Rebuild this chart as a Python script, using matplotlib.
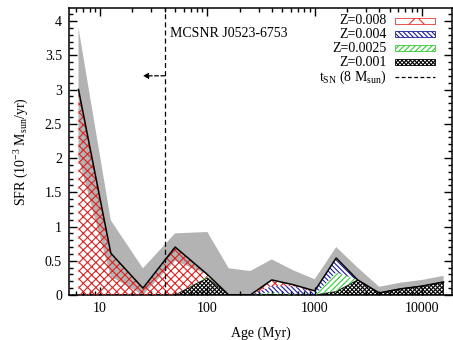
import numpy as np
import matplotlib
matplotlib.use("Agg")
import matplotlib.pyplot as plt
from matplotlib.patches import Rectangle
from matplotlib.lines import Line2D
from matplotlib.ticker import FixedLocator, MultipleLocator, LogLocator, NullFormatter

plt.rcParams['font.family'] = ['Liberation Serif', 'DejaVu Serif']
plt.rcParams['mathtext.fontset'] = 'custom'
plt.rcParams['mathtext.rm'] = 'Liberation Serif'
plt.rcParams['mathtext.it'] = 'Liberation Serif:italic'
plt.rcParams['hatch.linewidth'] = 0.8

# ---- data ----
ages = [6.3, 12.6, 25.1, 50.1, 100, 158, 251, 398, 631, 1000, 1585, 2512, 3981, 6310, 10000, 15849]
sfr_z001 = [0, 0, 0, 0, 0.25, 0, 0, 0.01, 0, 0, 0.05, 0.22, 0.03, 0.09, 0.13, 0.19]
sfr_z0025 = [0, 0, 0, 0, 0.02, 0, 0, 0.03, 0.01, 0, 0.28, 0, 0, 0, 0, 0]
sfr_z004 = [0, 0, 0, 0, 0, 0, 0, 0.09, 0.12, 0.04, 0.21, 0, 0, 0, 0, 0]
sfr_z008 = [3.0, 0.61, 0.10, 0.70, 0.03, 0, 0, 0.09, 0.02, 0.02, 0, 0, 0, 0, 0, 0]
err_upper = [3.90, 1.09, 0.39, 0.90, 0.92, 0.39, 0.35, 0.52, 0.36, 0.23, 0.70, 0.40, 0.12, 0.18, 0.22, 0.28]
err_lower = [2.0, 0.27, 0.0, 0.50, 0.30, 0, 0, 0.22, 0.15, 0.06, 0.54, 0.22, 0.03, 0.09, 0.13, 0.19]
t_sn = 40.0
labels = ['Z=0.008', 'Z=0.004', 'Z=0.0025', 'Z=0.001']
ytick_vals = [0, 0.5, 1, 1.5, 2, 2.5, 3, 3.5, 4]
ytick_labels = ['0', '0.5', '1', '1.5', '2', '2.5', '3', '3.5', '4']
xtick_vals = [10, 100, 1000, 10000]
xtick_labels = ['10', '100', '1000', '10000']

W, H = 453, 340
fig = plt.figure(figsize=(W / 100, H / 100), dpi=100)
L, R, T, B = 69, 452, 8, 295
ax = fig.add_axes([L / W, 1 - B / H, (R - L) / W, (B - T) / H])

x = np.array(ages)
c1 = np.array(sfr_z001)
c2 = c1 + np.array(sfr_z0025)
c3 = c2 + np.array(sfr_z004)
c4 = c3 + np.array(sfr_z008)

ax.fill_between(x, err_lower, err_upper, facecolor='#b3b3b3', edgecolor='none', lw=0, zorder=1)
ax.fill_between(x, 0, c1, facecolor='none', edgecolor='black', hatch='xxxxxxxx', lw=0.6, zorder=3)
ax.fill_between(x, c1, c2, facecolor='none', edgecolor='#33cc33', hatch='//////', lw=0, zorder=3)
ax.fill_between(x, c2, c3, facecolor='none', edgecolor='#1a1a99', hatch='\\' * 7, lw=0, zorder=3)
ax.fill_between(x, c3, c4, facecolor='none', edgecolor='#dd2222', hatch='xxxx', lw=0, zorder=3)
ax.plot(x, c4, color='black', lw=1.1, zorder=4)

ax.axvline(t_sn, color='black', lw=0.9, ls=(0, (4, 2.5)), zorder=5)
ax.annotate('', xy=(25, 3.2), xytext=(t_sn, 3.2),
            arrowprops=dict(arrowstyle='-|>', color='black', lw=0.9, ls=(0, (3, 2)),
                            mutation_scale=8, shrinkA=0, shrinkB=0), zorder=6)
ax.text(45, 3.82, 'MCSNR J0523-6753', fontsize=10, va='center', ha='left')

ax.set_xscale('log')
ax.set_xlim(5.14, 19000)
ax.set_ylim(0, 4.19)
ax.xaxis.set_major_locator(FixedLocator(xtick_vals))
ax.set_xticklabels(xtick_labels)
ax.xaxis.set_minor_locator(LogLocator(base=10, subs=np.arange(2, 10)))
ax.xaxis.set_minor_formatter(NullFormatter())
ax.yaxis.set_major_locator(FixedLocator(ytick_vals))
ax.set_yticklabels(ytick_labels)
ax.yaxis.set_minor_locator(MultipleLocator(0.1))
ax.tick_params(which='both', direction='in', top=True, right=True, labelsize=10, width=1.0)
ax.tick_params(which='major', length=6, pad=5)
ax.tick_params(which='minor', length=3)
for s in ax.spines.values():
    s.set_linewidth(1.1)

ax.set_xlabel('Age (Myr)', fontsize=10, labelpad=8)
ax.set_ylabel(r'SFR (10$^{-3}$ M$_{\rm sun}$/yr)', fontsize=10, labelpad=10)

# manual legend (labels right aligned, keys on the right)
rows = [21, 34, 48, 62, 77]
keys = [('#ee3333', 'x'), ('#1a1a99', '\\' * 7), ('#33cc33', '//////'), ('black', 'xxxxxxxx')]
tx = 387
for i, lab in enumerate(labels):
    py = rows[i]
    fig.text(tx / W, 1 - py / H, lab, fontsize=10, ha='right', va='center')
    col, h = keys[i]
    rect = Rectangle((395 / W, 1 - (py + 3) / H), 40 / W, 6 / H, transform=fig.transFigure,
                     facecolor='white', edgecolor=col, hatch=h, lw=0.6)
    fig.patches.append(rect)
py = rows[4]
fig.text(tx / W, 1 - py / H, r't$_{\rm SN}$ (8 M$_{\rm sun}$)', fontsize=10, ha='right', va='center')
fig.lines.append(Line2D([395 / W, 435 / W], [1 - py / H, 1 - py / H], transform=fig.transFigure,
                        color='black', lw=0.9, ls=(0, (3, 2))))

fig.savefig('out.png', dpi=100)
